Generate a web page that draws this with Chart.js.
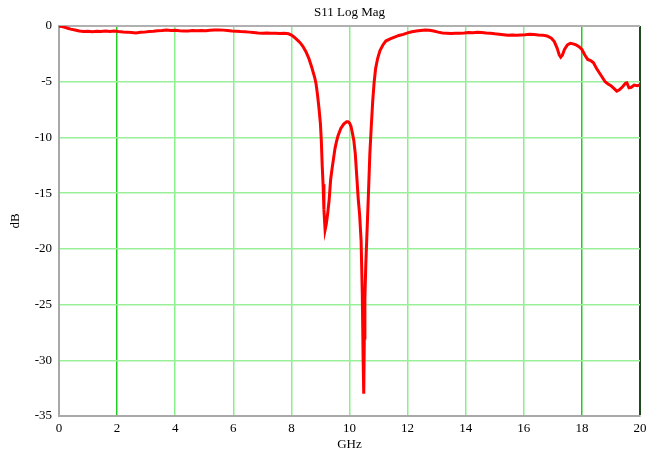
<!DOCTYPE html>
<html>
<head>
<meta charset="utf-8">
<script src="https://cdn.jsdelivr.net/npm/chart.js@4/dist/chart.umd.min.js"></script>
<style>
html,body{margin:0;padding:0;background:#fff;}
#wrap{width:647px;height:457px;position:relative;}
</style>
</head>
<body>
<div id="wrap"><canvas id="c" width="647" height="457"></canvas></div>
<script>
const chartTitle = 'S11 Log Mag';
const xTitle = 'GHz';
const yTitle = 'dB';
const xTicks = [0,2,4,6,8,10,12,14,16,18,20];
const yTicks = [0,-5,-10,-15,-20,-25,-30,-35];

const freqs = [
0.00,0.10,0.20,0.30,0.40,0.55,0.70,0.85,1.00,1.15,1.30,1.45,1.60,1.75,1.90,2.05,2.20,2.35,2.50,2.65,2.80,2.95,
3.10,3.25,3.40,3.55,3.70,3.85,4.00,4.15,4.30,4.45,4.60,4.75,4.90,5.05,5.20,5.35,5.50,5.65,5.80,5.95,
6.10,6.25,6.40,6.55,6.70,6.85,7.00,7.15,7.30,7.45,7.60,7.75,7.90,8.00,8.10,8.20,8.30,8.40,8.50,8.60,8.70,8.80,8.85,8.90,8.95,
9.00,9.03,9.06,9.09,9.12,9.16,9.20,9.25,9.30,9.35,9.40,9.45,9.50,9.55,9.60,9.70,9.80,9.90,9.95,
10.00,10.05,10.10,10.15,10.20,10.25,10.30,10.35,10.40,10.44,10.47,10.49,10.51,10.53,10.56,10.60,10.65,10.70,10.75,10.80,10.85,10.90,10.97,
11.05,11.15,11.25,11.40,11.55,11.70,11.85,12.00,12.15,12.30,12.45,12.60,12.75,12.90,
13.05,13.20,13.35,13.50,13.65,13.80,13.95,14.10,14.25,14.40,14.55,14.70,14.85,15.00,15.15,15.30,15.45,15.60,15.75,15.90,
16.05,16.20,16.35,16.50,16.65,16.80,16.95,17.05,17.15,17.22,17.27,17.33,17.40,17.50,17.60,17.70,17.80,17.90,
18.00,18.10,18.20,18.30,18.40,18.50,18.60,18.70,18.80,18.90,19.00,19.10,19.20,19.30,19.40,19.50,19.55,19.62,19.70,19.80,19.90,20.00
];
const s11 = [
-0.02,-0.05,-0.12,-0.20,-0.28,-0.36,-0.45,-0.50,-0.47,-0.52,-0.48,-0.50,-0.46,-0.49,-0.45,-0.50,-0.53,-0.55,-0.58,-0.62,-0.57,-0.55,
-0.50,-0.47,-0.42,-0.40,-0.37,-0.41,-0.38,-0.42,-0.45,-0.44,-0.41,-0.43,-0.40,-0.42,-0.38,-0.36,-0.35,-0.37,-0.40,-0.44,
-0.47,-0.50,-0.52,-0.55,-0.58,-0.62,-0.65,-0.63,-0.66,-0.64,-0.67,-0.65,-0.70,-0.82,-1.00,-1.25,-1.50,-1.85,-2.30,-2.90,-3.70,-4.60,-5.20,-6.20,-7.40,
-8.80,-10.30,-12.50,-14.20,-16.50,-18.30,-17.80,-16.80,-15.60,-13.80,-12.80,-11.90,-11.00,-10.40,-9.90,-9.20,-8.80,-8.60,-8.60,
-8.70,-9.00,-9.60,-10.30,-11.50,-13.50,-15.50,-17.00,-19.30,-24.00,-30.00,-33.00,-28.00,-24.50,-21.50,-18.70,-15.20,-11.50,-9.00,-6.70,-5.00,-3.80,-2.90,
-2.20,-1.70,-1.35,-1.15,-1.00,-0.85,-0.75,-0.62,-0.52,-0.45,-0.40,-0.35,-0.38,-0.45,
-0.55,-0.62,-0.65,-0.68,-0.66,-0.64,-0.62,-0.58,-0.60,-0.56,-0.58,-0.62,-0.65,-0.70,-0.74,-0.78,-0.82,-0.80,-0.84,-0.80,
-0.78,-0.75,-0.77,-0.80,-0.82,-0.90,-1.10,-1.40,-2.00,-2.60,-2.80,-2.60,-2.10,-1.70,-1.55,-1.60,-1.70,-1.85,
-2.10,-2.60,-3.00,-3.10,-3.30,-3.80,-4.20,-4.60,-5.00,-5.20,-5.35,-5.60,-5.85,-5.70,-5.45,-5.15,-5.10,-5.55,-5.50,-5.30,-5.35,-5.30
];

const serif = 'Liberation Serif';
const points = freqs.map((f, i) => ({x: f, y: s11[i]}));

new Chart(document.getElementById('c'), {
  type: 'line',
  data: {
    datasets: [{
      data: points,
      borderColor: '#ff0000',
      borderWidth: 3,
      pointRadius: 0,
      tension: 0,
      fill: false
    }]
  },
  options: {
    responsive: false,
    animation: false,
    events: [],
    layout: {padding: {left: 0, right: 7, top: 0, bottom: 0}},
    plugins: {
      legend: {display: false},
      tooltip: {enabled: false},
      title: {
        display: true,
        text: chartTitle,
        fullSize: false,
        color: '#000',
        font: {family: serif, size: 13, weight: 'normal'},
        padding: {top: 5, bottom: 5.4}
      }
    },
    scales: {
      x: {
        type: 'linear',
        min: 0, max: 20,
        afterFit: s => { s.height = 41; s.paddingRight = 0; s.paddingLeft = 0; },
        afterBuildTicks: s => { s.ticks = xTicks.map(v => ({value: v})); },
        ticks: {
          color: '#000',
          font: {family: serif, size: 13},
          padding: 5,
          maxRotation: 0,
          autoSkip: false
        },
        grid: {
          drawTicks: false,
          lineWidth: c => (c.tick && c.tick.value === 20) ? 2 : 1.5,
          color: c => {
            const v = c.tick ? c.tick.value : null;
            if (v === 0) return 'rgba(0,0,0,0)';
            if (v === 20) return '#1e4a1e';
            if (v === 2 || v === 18) return '#22cc22';
            return '#88f088';
          }
        },
        border: {display: true, color: '#a8a8a8', width: 2},
        title: {
          display: true,
          text: xTitle,
          color: '#000',
          font: {family: serif, size: 13},
          padding: {top: 0, bottom: 5}
        }
      },
      y: {
        type: 'linear',
        min: -35, max: 0,
        afterFit: s => { s.width = 59; },
        afterBuildTicks: s => { s.ticks = yTicks.map(v => ({value: v})); },
        ticks: {
          color: '#000',
          font: {family: serif, size: 13},
          padding: 7,
          autoSkip: false
        },
        grid: {
          drawTicks: false,
          lineWidth: c => (c.tick && c.tick.value === 0) ? 2 : 1.5,
          color: c => {
            const v = c.tick ? c.tick.value : null;
            if (v === 0) return '#b0b0b0';
            if (v === -35) return 'rgba(0,0,0,0)';
            return '#99f099';
          }
        },
        border: {display: true, color: '#a8a8a8', width: 2},
        title: {
          display: true,
          text: yTitle,
          color: '#000',
          font: {family: serif, size: 13},
          padding: {top: 8, bottom: 0}
        }
      }
    }
  }
});
</script>
</body>
</html>
